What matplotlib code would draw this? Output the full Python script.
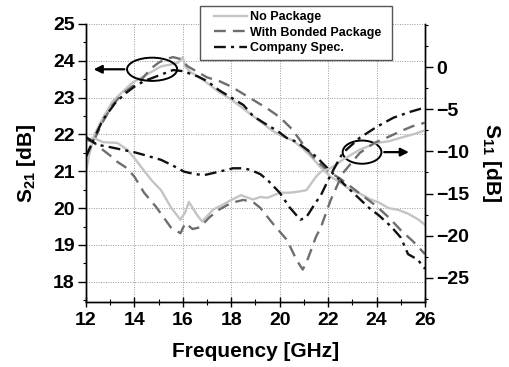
import matplotlib
matplotlib.use("Agg")
import matplotlib.pyplot as plt
from matplotlib.patches import Ellipse, Rectangle
from matplotlib.ticker import MultipleLocator

plt.rcParams['font.family'] = ['Liberation Sans', 'DejaVu Sans']
plt.rcParams['font.weight'] = 'bold'
plt.rcParams['axes.labelweight'] = 'bold'
plt.rcParams['mathtext.fontset'] = 'custom'
plt.rcParams['mathtext.bf'] = 'Liberation Sans:bold'
plt.rcParams['mathtext.rm'] = 'Liberation Sans:bold'

# ---- S21 (left axis) ----
f21_nopkg = [12.0, 12.15, 12.35, 12.7, 13.1, 13.5, 13.9, 14.3, 14.7, 15.1, 15.5, 15.8, 16.0, 16.1, 16.3,
             16.7, 17.1, 17.5, 18.0, 18.5, 18.9, 19.3, 19.7, 20.1, 20.5, 20.9, 21.3, 21.7, 22.1, 22.5,
             22.9, 23.3, 23.7, 24.1, 24.5, 24.9, 25.3, 25.7, 26.0]
s21_nopkg = [21.0, 21.5, 22.0, 22.45, 22.9, 23.15, 23.4, 23.55, 23.7, 23.85, 23.9, 23.95, 24.1, 23.85, 23.7,
             23.55, 23.35, 23.15, 22.95, 22.7, 22.5, 22.3, 22.1, 21.95, 21.85, 21.65, 21.4, 21.1, 20.85, 20.7,
             20.5, 20.4, 20.25, 20.15, 20.0, 19.95, 19.85, 19.7, 19.55]

f21_bonded = [12.0, 12.3, 12.7, 13.1, 13.5, 13.9, 14.3, 14.7, 15.0, 15.3, 15.6, 15.9, 16.2, 16.6, 17.0,
              17.5, 18.0, 18.5, 19.0, 19.5, 20.0, 20.5, 21.0, 21.5, 22.0, 22.5, 23.0, 23.5, 24.0, 24.5,
              25.0, 25.5, 26.0]
s21_bonded = [21.4, 21.8, 22.35, 22.8, 23.1, 23.3, 23.5, 23.8, 23.95, 24.05, 24.1, 24.05, 23.85, 23.7, 23.55,
              23.45, 23.3, 23.1, 22.9, 22.7, 22.47, 22.15, 21.7, 21.3, 21.0, 20.8, 20.55, 20.3, 20.05, 19.75,
              19.4, 19.1, 18.75]

f21_spec = [12.0, 12.3, 12.7, 13.2, 13.6, 14.0, 14.4, 14.8, 15.2, 15.6, 16.0, 16.6, 17.0, 17.5, 18.0,
            18.5, 18.9, 19.5, 19.9, 20.3, 20.7, 21.1, 21.5, 22.1, 22.5, 22.9, 23.3, 23.7, 24.1, 24.6,
            25.0, 25.3, 25.7, 26.0]
s21_spec = [21.4, 21.85, 22.4, 22.85, 23.1, 23.3, 23.45, 23.55, 23.65, 23.75, 23.72, 23.58, 23.45, 23.2, 23.0,
            22.8, 22.5, 22.25, 22.1, 21.9, 21.8, 21.6, 21.4, 21.0, 20.75, 20.5, 20.25, 20.0, 19.8, 19.5,
            19.2, 18.75, 18.6, 18.35]

# ---- S11 (right axis) ----
f11_nopkg = [12.0, 12.3, 12.7, 13.3, 13.7, 14.0, 14.4, 14.7, 15.1, 15.5, 15.9, 16.1, 16.25, 16.6, 16.8,
             17.25, 17.6, 18.0, 18.4, 18.9, 19.2, 19.5, 20.0, 20.4, 20.7, 21.1, 21.5, 21.7, 22.1, 22.6,
             23.3, 24.0, 24.5, 25.1, 25.6, 26.0]
s11_nopkg = [-8.7, -8.4, -8.9, -9.0, -9.8, -10.8, -12.3, -13.4, -14.6, -16.6, -18.1, -17.2, -16.0, -17.6, -18.3,
             -16.9, -16.4, -15.75, -15.2, -15.7, -15.4, -15.5, -14.9, -14.9, -14.8, -14.6, -13.0, -12.4, -12.0, -11.0,
             -9.8, -9.0, -8.8, -8.3, -7.9, -7.5]

f11_bonded = [12.0, 12.3, 12.6, 13.0, 13.3, 13.7, 14.0, 14.4, 14.9, 15.2, 15.5, 15.9, 16.1, 16.4, 16.7,
              17.1, 17.5, 18.0, 18.5, 18.9, 19.2, 19.7, 20.0, 20.3, 20.7, 20.95, 21.1, 21.5, 21.7, 22.1,
              22.6, 23.3, 23.9, 24.4, 25.0, 25.5, 26.0]
s11_bonded = [-8.6, -8.9, -9.6, -10.5, -11.25, -12.0, -13.0, -14.9, -16.6, -17.8, -19.0, -19.7, -18.5, -19.2, -19.0,
              -17.8, -16.9, -16.1, -15.75, -16.0, -16.7, -18.5, -19.5, -20.5, -22.9, -24.0, -23.2, -20.1, -19.0, -15.8,
              -12.6, -10.2, -9.0, -8.4, -7.6, -7.0, -6.6]

f11_spec = [12.0, 12.45, 13.0, 13.5, 14.0, 14.5, 15.1, 15.6, 16.05, 16.5, 16.9, 17.5, 18.07, 18.5, 18.8,
            19.2, 19.5, 20.0, 20.4, 20.85, 21.1, 21.5, 21.7, 22.1, 22.6, 23.3, 24.0, 24.7, 25.4, 26.0]
s11_spec = [-8.3, -9.2, -9.5, -9.8, -10.1, -10.5, -11.0, -11.7, -12.4, -12.7, -12.8, -12.4, -12.0, -12.0, -12.2,
            -12.7, -13.4, -14.9, -16.6, -18.1, -17.8, -16.0, -15.2, -12.8, -10.2, -8.4, -7.1, -6.0, -5.3, -4.8]

labels = ['No Package', 'With Bonded Package', 'Company Spec.']
x_ticks = [12, 14, 16, 18, 20, 22, 24, 26]
y21_ticks = [18, 19, 20, 21, 22, 23, 24, 25]
y11_ticks = [0, -5, -10, -15, -20, -25]

c_light = '#c4c4c4'
c_dash = '#6e6e6e'
c_black = '#111111'
lw = 1.7
dash_style = (0, (5, 3))
dashdot_style = (0, (5, 2.2, 1.3, 2.2))

W, H = 509, 367
fig = plt.figure(figsize=(W / 100, H / 100), dpi=100)
ax = fig.add_axes([86 / W, 1 - 302 / H, (425 - 86) / W, (302 - 24) / H])
ax2 = ax.twinx()

ax.plot(f21_nopkg, s21_nopkg, color=c_light, lw=lw, label=labels[0])
ax.plot(f21_bonded, s21_bonded, color=c_dash, lw=lw, linestyle=dash_style, label=labels[1])
ax.plot(f21_spec, s21_spec, color=c_black, lw=lw, linestyle=dashdot_style, label=labels[2])

ax2.plot(f11_nopkg, s11_nopkg, color=c_light, lw=lw)
ax2.plot(f11_bonded, s11_bonded, color=c_dash, lw=lw, linestyle=dash_style)
ax2.plot(f11_spec, s11_spec, color=c_black, lw=lw, linestyle=dashdot_style)

ax.set_xlim(12, 26)
ax.set_ylim(17.45, 25)
ax2.set_ylim(-27.85, 5.1)

ax.set_xticks(x_ticks)
ax.set_yticks(y21_ticks)
ax2.set_yticks(y11_ticks)
ax.xaxis.set_minor_locator(MultipleLocator(1))
ax.yaxis.set_minor_locator(MultipleLocator(0.5))
ax2.yaxis.set_minor_locator(MultipleLocator(2.5))

for a in (ax, ax2):
    a.tick_params(which='major', direction='out', length=5.5, width=1, labelsize=14, pad=2.5)
    a.tick_params(which='minor', direction='out', length=2.5, width=0.8)
    a.spines['top'].set_visible(False)
    for s in a.spines.values():
        s.set_linewidth(1.0)
ax.tick_params(axis='x', which='major', direction='inout', length=7, pad=4)
ax.tick_params(axis='x', which='minor', direction='inout', length=4)

ax.grid(True, which='major', color='#999999', linestyle=(0, (1, 1.5)), linewidth=0.7)
ax.set_axisbelow(True)

ax.set_xlabel('Frequency [GHz]', fontsize=15, fontweight='bold', labelpad=9)
ax.set_ylabel(r'$\mathbf{S_{21}}$ [dB]', fontsize=15, fontweight='bold', labelpad=11)
ax2.set_ylabel(r'$\mathbf{S_{11}}$ [dB]', fontsize=15, fontweight='bold', rotation=270, labelpad=24)

# Ellipses and arrows
e1 = Ellipse((14.73, 23.77), 2.07, 0.63, fill=False, edgecolor='black', lw=1.4, zorder=5)
ax.add_patch(e1)
ax.annotate('', xy=(12.2, 23.77), xytext=(13.7, 23.77),
            arrowprops=dict(arrowstyle='-|>', color='black', lw=1.6, mutation_scale=12))
e2 = Ellipse((23.4, 21.52), 1.6, 0.63, fill=False, edgecolor='black', lw=1.4, zorder=5)
ax.add_patch(e2)
ax.annotate('', xy=(25.45, 21.52), xytext=(24.2, 21.52),
            arrowprops=dict(arrowstyle='-|>', color='black', lw=1.6, mutation_scale=12))

# Legend with a manually drawn frame
box = Rectangle((200 / W, 1 - 60 / H), (392 - 200) / W, (60 - 6) / H, transform=fig.transFigure,
                facecolor='white', edgecolor='#555555', lw=1.0, zorder=4, clip_on=False)
ax2.add_artist(box)
leg = ax2.legend(handles=ax.get_lines(), labels=labels, loc='upper left',
                 bbox_to_anchor=(214 / W, 1 - 11 / H), bbox_transform=fig.transFigure,
                 fontsize=9, frameon=False, handlelength=2.6, handletextpad=0.25,
                 borderpad=0, labelspacing=0.3, borderaxespad=0)
leg.set_zorder(6)
for t in leg.get_texts():
    t.set_fontweight('bold')

fig.savefig('out.png', dpi=100)
